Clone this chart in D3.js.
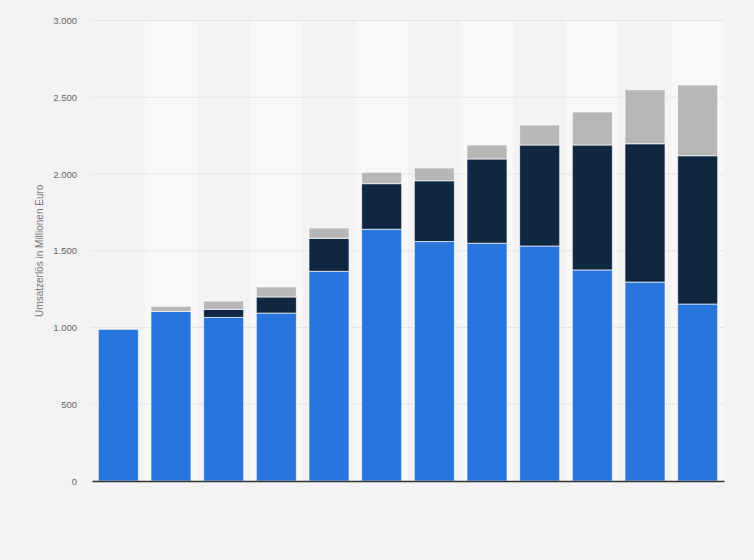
<!DOCTYPE html>
<html>
<head>
<meta charset="utf-8">
<script src="https://cdn.jsdelivr.net/npm/d3@7"></script>
<style>
  body { margin: 0; background: #f3f3f3; }
  svg { display: block; font-family: "Liberation Sans", Arial, sans-serif; }
</style>
</head>
<body>
<div id="chart"></div>
<script>
// categories (no labels shown on the chart)
var categories = ["1", "2", "3", "4", "5", "6", "7", "8", "9", "10", "11", "12"];

// series values in Mio. Euro
var blueValues = [988, 1105, 1066, 1094, 1366, 1640, 1560, 1549, 1531, 1375, 1296, 1153];
var darkValues = [0, 0, 52, 105, 215, 297, 396, 549, 658, 814, 901, 966];
var grayValues = [0, 33, 54, 65, 67, 74, 83, 91, 130, 215, 352, 461];

var yTicks = [0, 500, 1000, 1500, 2000, 2500, 3000];
var yLabel = "Umsatzerlös in Millionen Euro";

var w = 754;
var h = 560;
var margin = { top: 20.5, right: 30, bottom: 79, left: 92 };

var de = d3.formatLocale({ decimal: ",", thousands: ".", grouping: [3], currency: ["", " €"] });
var fmt = de.format(",");

var svg = d3.select("#chart")
  .append("svg")
  .attr("width", w)
  .attr("height", h);

svg.append("rect")
  .attr("width", w)
  .attr("height", h)
  .attr("fill", "#f3f3f3");

var xScale = d3.scaleBand()
  .domain(categories)
  .range([margin.left, w - margin.right])
  .paddingInner(0.24)
  .paddingOuter(0.12);

var yScale = d3.scaleLinear()
  .domain([0, 3000])
  .range([h - margin.bottom, margin.top]);

var step = xScale.step();

// alternating column bands
svg.append("g")
  .selectAll("rect")
  .data(categories)
  .enter()
  .append("rect")
  .attr("x", function (d) { return xScale(d) - step * xScale.paddingInner() / 2; })
  .attr("y", margin.top)
  .attr("width", step)
  .attr("height", yScale(0) - margin.top)
  .attr("fill", function (d, i) { return i % 2 === 1 ? "#f8f8f8" : "#f3f3f3"; });

// gridlines
svg.append("g")
  .selectAll("line")
  .data(yTicks.slice(1))
  .enter()
  .append("line")
  .attr("x1", xScale.range()[0])
  .attr("x2", xScale.range()[1])
  .attr("y1", function (d) { return yScale(d); })
  .attr("y2", function (d) { return yScale(d); })
  .attr("stroke", "#d4d4d4")
  .attr("stroke-width", 1)
  .attr("stroke-dasharray", "1,1");

// stacked data
var rows = categories.map(function (c, i) {
  return { cat: c, blue: blueValues[i], dark: darkValues[i], gray: grayValues[i] };
});
var stack = d3.stack().keys(["blue", "dark", "gray"]);
var series = stack(rows);
var colors = { blue: "#2876dd", dark: "#0f2741", gray: "#b7b7b7" };

svg.append("g")
  .selectAll("g")
  .data(series)
  .enter()
  .append("g")
  .attr("fill", function (s) { return colors[s.key]; })
  .selectAll("rect")
  .data(function (s) { return s.filter(function (d) { return d[1] - d[0] > 0; }); })
  .enter()
  .append("rect")
  .attr("x", function (d) { return xScale(d.data.cat); })
  .attr("y", function (d) { return yScale(d[1]); })
  .attr("width", xScale.bandwidth())
  .attr("height", function (d) { return yScale(d[0]) - yScale(d[1]); })
  .attr("stroke", "#ffffff")
  .attr("stroke-opacity", 0.65)
  .attr("stroke-width", 1);

// y axis labels
var yAxis = d3.axisLeft(yScale)
  .tickValues(yTicks)
  .tickFormat(fmt)
  .tickSize(0)
  .tickPadding(15);

var gy = svg.append("g")
  .attr("transform", "translate(" + margin.left + ",0)")
  .call(yAxis);
gy.select(".domain").remove();
gy.selectAll("text")
  .attr("fill", "#666")
  .attr("font-size", "9.5px")
  .attr("font-family", "Liberation Sans, Arial, sans-serif");

// x axis baseline
var xAxis = d3.axisBottom(xScale).tickSize(0).tickFormat("");
var gx = svg.append("g")
  .attr("transform", "translate(0," + yScale(0) + ")")
  .call(xAxis);
gx.select(".domain")
  .attr("stroke", "#333")
  .attr("stroke-width", 1.4);

// y axis title
svg.append("text")
  .attr("transform", "translate(43," + ((yScale(0) + yScale(3000)) / 2) + ") rotate(-90)")
  .attr("text-anchor", "middle")
  .attr("fill", "#777")
  .attr("font-size", "10px")
  .text(yLabel);
</script>
</body>
</html>
